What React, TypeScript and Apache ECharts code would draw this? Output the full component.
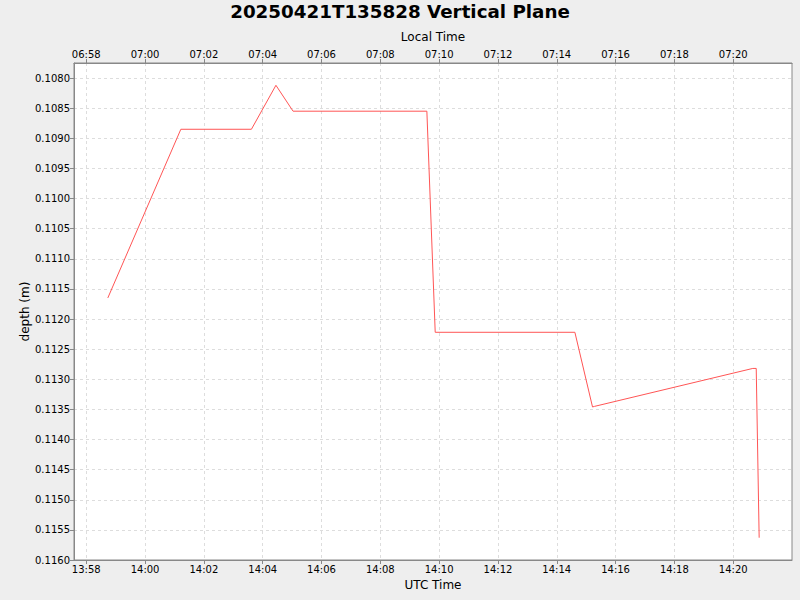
import React, { useEffect, useRef } from "react";
import * as echarts from "echarts";

const TITLE = "20250421T135828 Vertical Plane";
const utcTimes = [
  "13:58:44", "14:01:13", "14:03:37", "14:04:27", "14:05:02", "14:09:35",
  "14:09:52", "14:14:37", "14:15:13", "14:15:17", "14:20:40", "14:20:47", "14:20:53",
];
const depths = [
  0.11165, 0.10885, 0.10885, 0.10812, 0.10855, 0.10855,
  0.11222, 0.11222, 0.11346, 0.11345, 0.11282, 0.11282, 0.11563,
];
const xTickTimes = [
  "13:58", "14:00", "14:02", "14:04", "14:06", "14:08", "14:10", "14:12",
  "14:14", "14:16", "14:18", "14:20",
];
const yTicks = [
  0.108, 0.1085, 0.109, 0.1095, 0.11, 0.1105, 0.111, 0.1115, 0.112,
  0.1125, 0.113, 0.1135, 0.114, 0.1145, 0.115, 0.1155, 0.116,
];
const X_MIN = "13:57:35";
const X_MAX = "14:22:00";
const Y_MIN = 0.10775;
const Y_MAX = 0.116;
const LOCAL_OFFSET_HOURS = -7;

function toMs(s: string): number {
  const p = s.split(":").map(Number);
  return Date.UTC(2025, 3, 21, p[0], p[1], p[2] || 0);
}
function fmt(ms: number, offH: number): string {
  const d = new Date(ms + offH * 3600000);
  const h = String(d.getUTCHours()).padStart(2, "0");
  const m = String(d.getUTCMinutes()).padStart(2, "0");
  return h + ":" + m;
}

const FONT = "DejaVu Sans";

export default function App() {
  const ref = useRef<HTMLDivElement>(null);
  useEffect(() => {
    if (!ref.current) return;
    const chart = echarts.init(ref.current, undefined, { renderer: "svg" });
    const xTicks = xTickTimes.map(toMs);
    const data = utcTimes.map((t, i) => [toMs(t), depths[i]]);
    const xBase = {
      type: "value" as const,
      min: toMs(X_MIN),
      max: toMs(X_MAX),
      nameLocation: "middle" as const,
      nameMoveOverlap: false,
      nameTextStyle: { fontFamily: FONT, fontSize: 12, color: "#000" },
      axisLine: { show: true, lineStyle: { color: "#888" } },
      axisTick: { show: true, customValues: xTicks, length: 4, lineStyle: { color: "#888" } },
      axisLabel: { customValues: xTicks, fontFamily: FONT, fontSize: 10, color: "#000", margin: 4 },
    };
    chart.setOption({
      animation: false,
      backgroundColor: "#eeeeee",
      title: {
        text: TITLE,
        left: "center",
        top: -3,
        textStyle: { fontFamily: FONT, fontSize: 18.3, fontWeight: "bold", color: "#000" },
      },
      grid: {
        left: 74,
        right: 8,
        top: 63,
        bottom: 40,
        show: true,
        backgroundColor: "#ffffff",
        borderColor: "#888",
        borderWidth: 1,
      },
      xAxis: [
        {
          ...xBase,
          position: "bottom",
          name: "UTC Time",
          nameGap: 19,
          axisLabel: { ...xBase.axisLabel, formatter: (v: number) => fmt(v, 0) },
          splitLine: { show: true, lineStyle: { color: "#dddddd", type: [3, 3] } },
        },
        {
          ...xBase,
          position: "top",
          name: "Local Time",
          nameGap: 20,
          axisLabel: { ...xBase.axisLabel, formatter: (v: number) => fmt(v, LOCAL_OFFSET_HOURS) },
          splitLine: { show: false },
        },
      ],
      yAxis: {
        type: "value",
        inverse: true,
        min: Y_MIN,
        max: Y_MAX,
        name: "depth (m)",
        nameLocation: "middle",
        nameGap: 43,
        nameMoveOverlap: false,
        nameTextStyle: { fontFamily: FONT, fontSize: 12, color: "#000" },
        axisLine: { show: true, lineStyle: { color: "#888" } },
        axisTick: { show: true, customValues: yTicks, length: 4, lineStyle: { color: "#888" } },
        axisLabel: {
          customValues: yTicks,
          fontFamily: FONT,
          fontSize: 10,
          color: "#000",
          margin: 4,
          formatter: (v: number) => v.toFixed(4),
        },
        splitLine: { show: true, lineStyle: { color: "#dddddd", type: [3, 3] } },
      },
      series: [
        {
          type: "line",
          xAxisIndex: 0,
          data,
          showSymbol: false,
          symbol: "none",
          lineStyle: { color: "#ff5555", width: 1 },
          itemStyle: { color: "#ff5555" },
        },
      ],
    });
    return () => chart.dispose();
  }, []);
  return <div ref={ref} style={{ width: 800, height: 600, position: "absolute", left: 0, top: 0 }} />;
}
